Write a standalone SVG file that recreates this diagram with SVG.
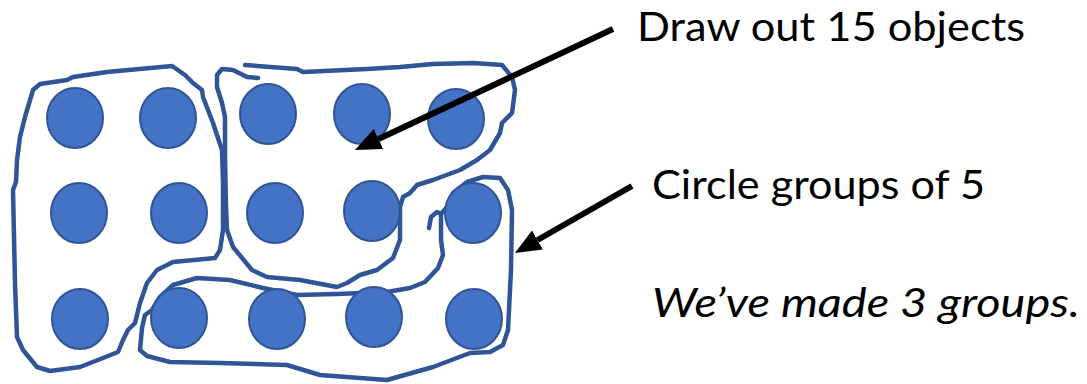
<svg xmlns="http://www.w3.org/2000/svg" width="1087" height="384" viewBox="0 0 1087 384">
<style>
.dot{fill:#4472C4;stroke:#2F5597;stroke-width:2}
.loop{fill:none;stroke:#2F5597;stroke-width:4.5;stroke-linejoin:round;stroke-linecap:round}
.arr{stroke:#000;stroke-width:6;fill:none}
.lbl{font-family:Lato,"Liberation Sans",sans-serif;font-size:40px;fill:#000}
</style>
<defs>
<marker id="ah" markerUnits="userSpaceOnUse" markerWidth="26" markerHeight="22" viewBox="0 0 26 22" refX="0" refY="11" orient="auto">
<path d="M0,0 L26,11 L0,22 z" fill="#000"/>
</marker>
</defs>
<rect width="1087" height="384" fill="#fff"/>
<g id="loops">
<path id="loopA" class="loop" d="M172,66 L185,75 L193,83 L202,90 L203,97 L213,123 L222,150 L223,183 L223,230 L220,250 L215,258 L173,262 L157,270 L147,283 L140,303 L135,323 L128,330 L123,340 L118,352 L103,358 L80,367 L50,371 L37,367 L23,350 L17,337 L15,283 L13,190 L16,182 L17,160 L20,137 L25,117 L33,90 L40,84 L67,80 L73,77 L107,72 Z"/>
<path id="loopB" class="loop" d="M258,78 L247,77 L233,70 L222,69 L217,75 L217,87 L222,103 L225,117 L225,157 L226,207 L227,230 L233,247 L252,270 L267,277 L300,280 L337,287 L347,283 L360,275 L377,270 L393,258 L400,240 L400,207 L403,197 L410,193 L417,185 L433,180 L460,170 L477,160 L490,150 L500,133 L502,123 L512,113 L515,90 L512,77 L502,65 L473,63 L433,64 L400,67 L367,69 L303,72 L297,69 L245,65"/>
<path id="loopC" class="loop" d="M429,228 L431,217 L437,212 L441,214 L441,240 L443,255 L438,268 L425,282 L410,288 L387,292 L337,294 L297,295 L263,288 L230,280 L197,278 L173,285 L160,297 L152,310 L145,315 L142,328 L140,350 L147,356 L170,362 L220,363 L287,365 L320,375 L387,380 L433,367 L470,353 L490,352 L503,345 L508,330 L511,270 L512,210 L508,190 L500,178 L483,177 L467,182 L453,193 L447,207 L441,214"/>
</g>
<g id="objects">
<ellipse id="o1" class="dot" cx="75" cy="118" rx="28" ry="30"/>
<ellipse id="o2" class="dot" cx="168" cy="118" rx="28" ry="30"/>
<ellipse id="o3" class="dot" cx="268" cy="114" rx="28" ry="30"/>
<ellipse id="o4" class="dot" cx="362" cy="114" rx="28" ry="30"/>
<ellipse id="o5" class="dot" cx="456" cy="119" rx="28" ry="30"/>
<ellipse id="o6" class="dot" cx="79" cy="213" rx="28" ry="30"/>
<ellipse id="o7" class="dot" cx="179" cy="213" rx="28" ry="30"/>
<ellipse id="o8" class="dot" cx="275" cy="213" rx="28" ry="30"/>
<ellipse id="o9" class="dot" cx="372" cy="211" rx="28" ry="30"/>
<ellipse id="o10" class="dot" cx="473" cy="213" rx="28" ry="30"/>
<ellipse id="o11" class="dot" cx="80" cy="319" rx="28" ry="30"/>
<ellipse id="o12" class="dot" cx="179" cy="318" rx="28" ry="30"/>
<ellipse id="o13" class="dot" cx="277" cy="319" rx="28" ry="30"/>
<ellipse id="o14" class="dot" cx="374" cy="317" rx="28" ry="30"/>
<ellipse id="o15" class="dot" cx="474" cy="319" rx="28" ry="30"/>
</g>
<g id="connectors">
<line class="arr" x1="613" y1="29" x2="378.5" y2="139" marker-end="url(#ah)"/>
<line class="arr" x1="632" y1="186" x2="537.5" y2="240" marker-end="url(#ah)"/>
</g>
<g id="label1"><text class="lbl" x="637" y="41" textLength="388" lengthAdjust="spacingAndGlyphs">Draw out 15 objects</text></g>
<g id="label2"><text class="lbl" x="652" y="199" textLength="333" lengthAdjust="spacingAndGlyphs">Circle groups of 5</text></g>
<g id="label3"><text class="lbl" x="652" y="317" font-style="italic" textLength="428" lengthAdjust="spacingAndGlyphs">We’ve made 3 groups.</text></g>
</svg>
